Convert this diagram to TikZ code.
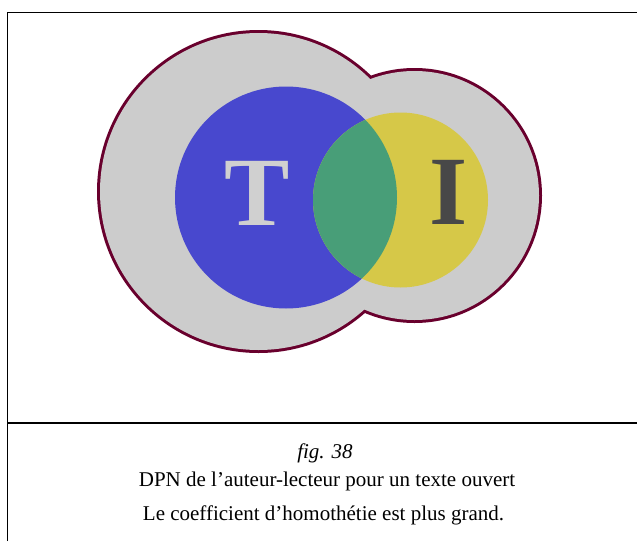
\documentclass[tikz,border=0pt]{standalone}
\usepackage{fontspec}
\setmainfont{Liberation Serif}
\definecolor{ringgrey}{RGB}{204,204,204}
\definecolor{outline}{RGB}{105,0,45}
\definecolor{tblue}{RGB}{72,72,206}
\definecolor{iyellow}{RGB}{214,200,72}
\definecolor{tigreen}{RGB}{72,158,120}
\definecolor{lettergrey}{RGB}{208,208,208}
\definecolor{letterdark}{RGB}{72,72,72}
\begin{document}
\begin{tikzpicture}[
        x=1pt,
        y=-1pt,
        % cadre de la figure
        frame/.style={
            draw=black,
            line width=1.4pt
        },
        % lettres T et I
        letter/.style={
            anchor=base,
            inner sep=0pt,
            font=\fontsize{98}{98}\selectfont\bfseries
        },
        % texte de la légende
        caption/.style={
            anchor=base,
            inner sep=0pt,
            font=\fontsize{21}{25}\selectfont
        }
    ]

    \useasboundingbox (0,0) rectangle (637,541);

    % --- 1. cadre et séparation ---
    \draw[frame] (7.5,541) -- (7.5,12.5) -- (637,12.5);
    \draw[frame, line width=2pt] (7.5,422.7) -- (637,422.7);

    % --- 2. enveloppe grise (union des deux cercles) ---
    \draw[outline, line width=6pt] (258.5,191.5) circle (158.5);
    \draw[outline, line width=6pt] (414.5,195.5) circle (124.5);
    \fill[ringgrey] (258.5,191.5) circle (158.5);
    \fill[ringgrey] (414.5,195.5) circle (124.5);

    % --- 3. cercles T et I ---
    \fill[tblue] (286,197.5) circle (111);
    \fill[iyellow] (400.5,200) circle (87.5);
    \begin{scope}
        \clip (286,197.5) circle (111);
        \fill[tigreen] (400.5,200) circle (87.5);
    \end{scope}

    % --- 4. lettres ---
    \node (lettreT) [letter, text=lettergrey] at (257,225) {T};
    \node (lettreI) [letter, text=letterdark] at (449,224) {I};

    % --- 5. légende ---
    \node (fignum) [caption, font=\fontsize{21}{25}\selectfont\itshape] at (325,458.3) {fig. 38};
    \node (titre) [caption] at (327,486) {DPN de l’auteur-lecteur pour un texte ouvert};
    \node (remarque) [caption] at (323.5,520.7) {Le coefficient d’homothétie est plus grand.};

\end{tikzpicture}
\end{document}
